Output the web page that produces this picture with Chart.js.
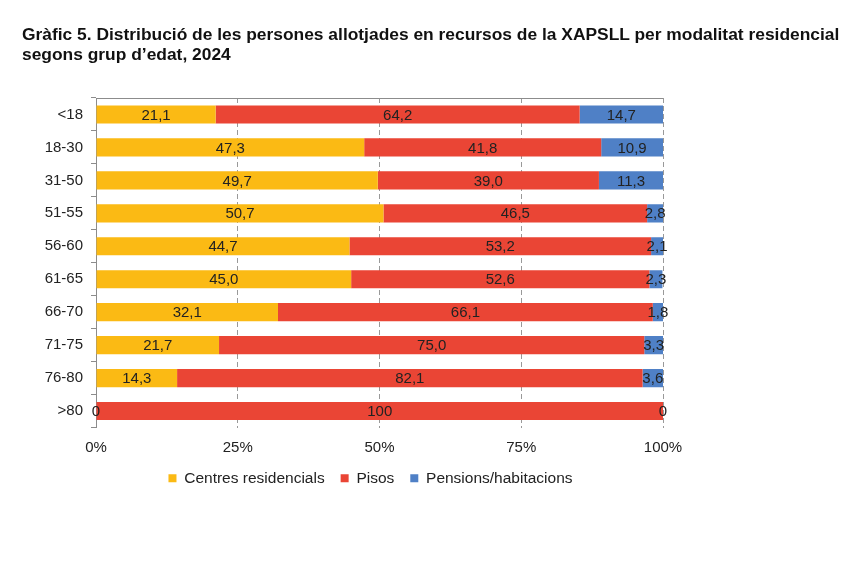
<!DOCTYPE html>
<html>
<head>
<meta charset="utf-8">
<script src="https://cdn.jsdelivr.net/npm/chart.js@4/dist/chart.umd.min.js"></script>
<style>
  body { margin: 0; background: #fff; }
  #wrap { position: relative; width: 867px; height: 577px; }
  #title {
    position: absolute; left: 22px; top: 24px; white-space: nowrap;
    font-family: "Liberation Sans", Arial, sans-serif; font-weight: bold;
    font-size: 17.4px; line-height: 20px; color: #111;
  }
  canvas { position: absolute; left: 0; top: 0; }
</style>
</head>
<body>
<div id="wrap">
  <canvas id="chart" width="867" height="577"></canvas>
  <div id="title">Gràfic 5. Distribució de les persones allotjades en recursos de la XAPSLL per modalitat residencial<br>segons grup d’edat, 2024</div>
</div>
<script>
const ageGroups = ['<18', '18-30', '31-50', '51-55', '56-60', '61-65', '66-70', '71-75', '76-80', '>80'];
const centres = [21.1, 47.3, 49.7, 50.7, 44.7, 45.0, 32.1, 21.7, 14.3, 0];
const pisos = [64.2, 41.8, 39.0, 46.5, 53.2, 52.6, 66.1, 75.0, 82.1, 100];
const pensions = [14.7, 10.9, 11.3, 2.8, 2.1, 2.3, 1.8, 3.3, 3.6, 0];
const seriesNames = ['Centres residencials', 'Pisos', 'Pensions/habitacions'];
const xTicks = [0, 25, 50, 75, 100];

const font = { family: '"Liberation Sans", Arial, sans-serif', size: 15 };

function fmt(v) {
    if (v === 0 || v === 100) return String(v);
    return v.toFixed(1).replace('.', ',');
}

// etiquetes de valor al centre de cada barra
const valueLabels = {
    id: 'valueLabels',
    afterDatasetsDraw(chart) {
        const ctx = chart.ctx;
        ctx.save();
        ctx.font = '15px "Liberation Sans", Arial, sans-serif';
        ctx.fillStyle = '#222';
        ctx.textAlign = 'center';
        ctx.textBaseline = 'middle';
        chart.data.datasets.forEach((ds, i) => {
            chart.getDatasetMeta(i).data.forEach((bar, j) => {
                ctx.fillText(fmt(ds.data[j]), (bar.x + bar.base) / 2, bar.y + 1);
            });
        });
        ctx.restore();
    }
};

// línia superior de l'àrea del gràfic
const topBorder = {
    id: 'topBorder',
    afterLayout(chart) {
        // la llegenda queda una mica més a l'esquerra
        chart.legend.left -= 9;
        chart.legend.right -= 9;
    },
    beforeDatasetsDraw(chart) {
        const a = chart.chartArea;
        const ctx = chart.ctx;
        ctx.save();
        ctx.strokeStyle = '#8c8c8c';
        ctx.lineWidth = 1;
        ctx.beginPath();
        ctx.moveTo(a.left, a.top + 0.5);
        ctx.lineTo(a.right, a.top + 0.5);
        ctx.stroke();
        ctx.restore();
    }
};

new Chart(document.getElementById('chart'), {
    type: 'bar',
    data: {
        labels: ageGroups,
        datasets: [
            { label: seriesNames[0], data: centres, backgroundColor: '#FBBA14' },
            { label: seriesNames[1], data: pisos, backgroundColor: '#EA4535' },
            { label: seriesNames[2], data: pensions, backgroundColor: '#4F80C6' }
        ]
    },
    options: {
        indexAxis: 'y',
        responsive: false,
        animation: false,
        devicePixelRatio: 1,
        layout: { padding: { left: 20, right: 204, top: 98, bottom: 81 } },
        datasets: { bar: { categoryPercentage: 1, barPercentage: 0.55 } },
        scales: {
            x: {
                stacked: true, min: 0, max: 100,
                afterBuildTicks(scale) { scale.ticks = xTicks.map(v => ({ value: v })); },
                afterFit(scale) { scale.height = 27; },
                ticks: { font: font, color: '#222', padding: 11, callback: v => v + '%' },
                grid: {
                    color: ctx => ctx.tick && ctx.tick.value === 0 ? 'rgba(0,0,0,0)' : '#999',
                    drawTicks: false
                },
                border: { display: false, dash: [5, 3] }
            },
            y: {
                stacked: true,
                afterFit(scale) { scale.width = 76; },
                ticks: { font: font, color: '#222', padding: 8 },
                grid: { drawOnChartArea: false, tickLength: 5, color: '#8c8c8c' },
                border: { color: '#8c8c8c' }
            }
        },
        plugins: {
            legend: {
                position: 'bottom',
                fullSize: false,
                labels: {
                    font: { family: font.family, size: 15.5 },
                    color: '#222', boxWidth: 8, boxHeight: 8, padding: 16
                }
            },
            tooltip: { enabled: false }
        }
    },
    plugins: [valueLabels, topBorder]
});
</script>
</body>
</html>
